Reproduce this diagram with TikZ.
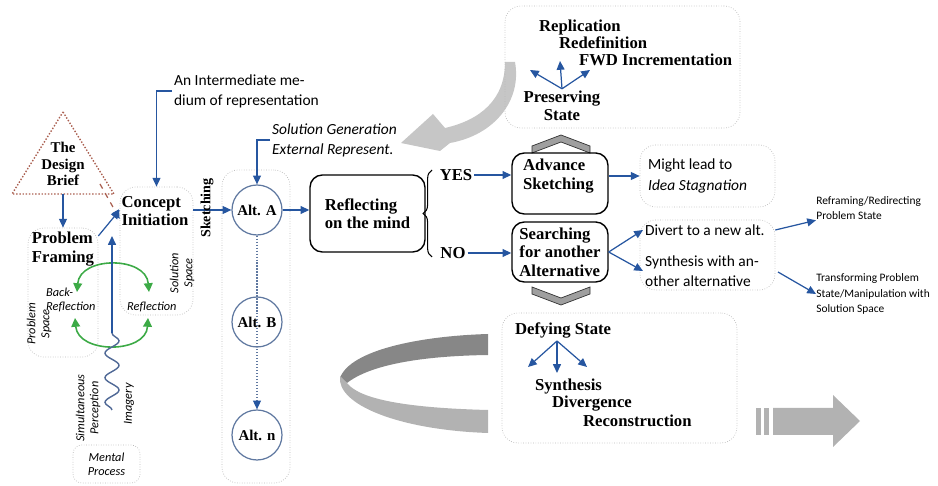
\documentclass[tikz,border=0pt]{standalone}
\usepackage{fontspec}
\setmainfont{Carlito}
\newfontfamily\slab{Liberation Serif}
\usepackage{tikz}
\usetikzlibrary{positioning,arrows.meta,decorations.pathmorphing,decorations.pathreplacing}

\definecolor{arrblue}{RGB}{38,86,160}
\definecolor{altline}{RGB}{95,120,160}
\definecolor{briefred}{RGB}{170,95,80}
\definecolor{loopgreen}{RGB}{60,170,70}
\definecolor{wavecol}{RGB}{80,105,150}
\definecolor{bandtop}{RGB}{135,135,135}
\definecolor{bandlow}{RGB}{178,178,178}

\tikzset{
  arr/.style={draw=arrblue, line width=0.7pt, -{Triangle[length=5pt,width=4.5pt,color=arrblue]}},
  garr/.style={draw=loopgreen, line width=0.9pt, {Triangle[length=5pt,width=5pt]}-{Triangle[length=5pt,width=5pt]}},
  boldbox/.style={draw, line width=0.8pt, rounded corners=7pt},
  softbox/.style={draw=gray!55, densely dotted, rounded corners=9pt},
  alt/.style={circle, draw=altline, line width=0.7pt, minimum size=1cm, inner sep=0pt, font=\slab\bfseries\fontsize{8.5}{10}\selectfont},
  hd/.style={font=\slab\bfseries\fontsize{9.5}{10.5}\selectfont, align=left, inner sep=1pt},
  note/.style={font=\fontsize{8.8}{11.5}\selectfont, align=left, inner sep=1pt},
  inote/.style={font=\itshape\fontsize{8.8}{11.5}\selectfont, align=left, inner sep=1pt},
  small/.style={font=\itshape\fontsize{7}{8}\selectfont, align=left, inner sep=0.5pt},
  tiny/.style={font=\fontsize{6.5}{9}\selectfont, align=left, inner sep=0pt},
}

\begin{document}
\begin{tikzpicture}[x=0.02cm, y=-0.02cm]
   \useasboundingbox (0,0) rectangle (938,486);

   % gray shapes
   \fill[gray!45] (505,62) .. controls (505,100) and (480,120) .. (445,128) -- (433,114) -- (401,143)
      -- (440,151) -- (450,143) .. controls (495,135) and (522,100) .. (515,62) -- cycle;
   \fill[bandtop] (488,334) .. controls (420,336) and (350,350) .. (340,378) -- (347,383)
      .. controls (370,365) and (420,356) .. (488,355) -- cycle;
   \fill[bandlow] (340,376) .. controls (336,405) and (400,430) .. (488,433) -- (488,410)
      .. controls (410,408) and (360,400) .. (347,383) -- cycle;
   \fill[gray!60] (756,408) rectangle (761,435);
   \fill[gray!60] (764,408) rectangle (769,435);
   \fill[gray!60] (773,408) -- (833,408) -- (833,395) -- (860,421) -- (833,447) -- (833,435) -- (773,435) -- cycle;
   \filldraw[fill=gray!75, draw=gray!40!black] (532,146) -- (561,135) -- (590,146) -- (590,153) -- (561,142) -- (532,153) -- cycle;
   \filldraw[fill=gray!75, draw=gray!40!black] (532,287) -- (561,298) -- (590,287) -- (590,294) -- (561,305) -- (532,294) -- cycle;

   % design brief, problem and solution space
   \draw[briefred, densely dotted, line width=0.8pt] (63,112) -- (114,194) -- (12,194) -- cycle;
   \node[hd, align=center, font=\slab\bfseries\fontsize{8.5}{9.5}\selectfont] (brief) at (63,164) {The\\Design\\Brief};
   \coordinate (tb) at (63,194);
   \coordinate (ts) at (100,184);

   \node[softbox, minimum width=1.4cm, minimum height=2.58cm] (pf) at (63,292.5) {};
   \node[hd] (pft) at (63,249) {Problem\\Framing};
   \node[softbox, minimum width=1.46cm, minimum height=2.56cm] (ci) at (156.5,251) {};
   \node[hd] (cit) at (155,211) {Concept\\Initiation};
   \node[small, rotate=90, align=center] (ps) at (39,324) {Problem\\Space};
   \node[small, rotate=90, align=center] (ss) at (182,273) {Solution\\Space};

   \draw[arr] (tb) -- (pf.north);
   \draw[arr] (pf.58) -- (ci.132);
   \draw[arr, dashed, draw=briefred] (ts) -- (ci.139);

   \node[note, anchor=west] (imed) at (172,91) {An Intermediate me-\\dium of representation};
   \draw[arr] (imed.west) -| (ci.north);

   % reflection loop and mental process
   \coordinate (g1) at (77,292);
   \coordinate (g2) at (149,292);
   \coordinate (g3) at (75,318);
   \coordinate (g4) at (148,318);
   \draw[garr] (g1) .. controls (80,256) and (146,256) .. (g2);
   \draw[garr] (g3) .. controls (78,354) and (146,354) .. (g4);
   \node[small, anchor=west] (bref) at (45,300) {Back-\\Reflection};
   \node[small, anchor=west] (ref) at (126,307) {Reflection};

   \coordinate (wb) at (112,410);
   \coordinate (wm) at (112,333);
   \coordinate (wt) at (112,236);
   \draw[draw=wavecol, line width=0.8pt, decorate, decoration={snake, amplitude=4pt, segment length=14pt}] (wb) -- (wm);
   \draw[arr] (wm) -- (wt);
   \node[small, rotate=90, align=center] (sp) at (88,408) {Simultaneous\\Perception};
   \node[small, rotate=90] (img) at (129,404) {Imagery};
   \node[softbox, rounded corners=5pt, minimum width=1.34cm, minimum height=0.76cm, small, align=center] (mp) at (106.5,464) {Mental\\Process};

   % sketching column
   \node[softbox, minimum width=1.36cm, minimum height=6.26cm] (col) at (256,326.5) {};
   \node[alt] (a) at (257,210) {Alt. A};
   \node[alt] (b) at (257,322) {Alt. B};
   \node[alt] (n) at (257,435) {Alt. n};
   \draw[arr] (ci.east |- a) -- (a.west);
   \node[hd, rotate=90, font=\slab\bfseries\fontsize{8}{9}\selectfont] (sk) at (207,208) {Sketching};
   \draw[arr, draw=altline, densely dotted] (a.south) -- (n.north);

   \node[inote, anchor=west] (sg) at (270,140) {Solution Generation\\External Represent.};
   \draw[arr] (sg.west) -| (a.north);

   % reflecting and decision
   \node[boldbox, hd, minimum width=2.3cm, minimum height=1.54cm] (rm) at (367.5,213.5) {Reflecting\\on the mind};
   \draw[arr] (a.east) -- (a.east -| rm.west);
   \coordinate (br1) at (432,257);
   \coordinate (br2) at (432,170);
   \draw[decorate, decoration={brace, amplitude=5pt}, line width=0.6pt] (br1) -- (br2);
   \node[hd] (yes) at (456,175) {YES};
   \node[hd] (no) at (453,253) {NO};

   \node[boldbox, minimum width=1.92cm, minimum height=1.22cm] (adv) at (560,183.5) {};
   \node[hd, anchor=north west] (advt) at (521,157) {Advance\\Sketching};
   \node[boldbox, hd, minimum width=1.92cm, minimum height=1.2cm] (sr) at (560,252) {Searching\\for another\\Alternative};
   \draw[arr] (yes.east) -- (yes.east -| adv.west);
   \draw[arr] (no.east) -- (no.east -| sr.west);

   % outcomes
   \node[softbox, minimum width=2.7cm, minimum height=1.24cm] (mg) at (707.5,176) {};
   \node[note, anchor=west] (mgt) at (646,176) {Might lead to\\\textit{Idea Stagnation}};
   \draw[arr] (adv.east |- mgt) -- (mg.west |- mgt);

   \node[softbox, minimum width=2.7cm, minimum height=1.4cm] (dv) at (707.5,255) {};
   \node[note, anchor=west] (dv1) at (643,230) {Divert to a new alt.};
   \node[note, anchor=west] (dv2) at (643,271) {Synthesis with an-\\other alternative};
   \draw[arr] (sr.east) -- (dv1.west);
   \draw[arr] (sr.east) -- (dv2.west);

   \node[tiny, anchor=west] (rf) at (816,208) {Reframing/Redirecting\\Problem State};
   \node[tiny, anchor=west] (tf) at (816,294) {Transforming Problem\\State/Manipulation with\\Solution Space};
   \draw[arr] (dv.east |- dv1) -- (rf.south west);
   \draw[arr] (778,272) -- (tf.west);

   % preserving state
   \node[softbox, minimum width=4.7cm, minimum height=2.44cm] (pv) at (622.5,67) {};
   \node[hd, anchor=west] (rep) at (537,27) {Replication};
   \node[hd, anchor=west] (rdf) at (557,43) {Redefinition};
   \node[hd, anchor=west] (fwd) at (577,60) {FWD Incrementation};
   \node[hd, align=center] (pst) at (562,106) {Preserving\\State};
   \coordinate (p1) at (530,70);
   \coordinate (p2) at (560,61);
   \coordinate (p3) at (590,70);
   \draw[arr] (pst.north) -- (p1);
   \draw[arr] (pst.north) -- (p2);
   \draw[arr] (pst.north) -- (p3);

   % defying state
   \node[softbox, minimum width=4.7cm, minimum height=2.6cm] (df) at (619.5,378) {};
   \node[hd, anchor=west] (dst) at (513,330) {Defying State};
   \node[hd, anchor=west] (syn) at (533,387) {Synthesis};
   \node[hd, anchor=west] (dvg) at (550,404) {Divergence};
   \node[hd, anchor=west] (rec) at (581,421) {Reconstruction};
   \coordinate (d0) at (557,341);
   \coordinate (d1) at (528,367);
   \coordinate (d2) at (557,373);
   \coordinate (d3) at (587,367);
   \draw[arr] (d0) -- (d1);
   \draw[arr] (d0) -- (d2);
   \draw[arr] (d0) -- (d3);
\end{tikzpicture}
\end{document}
